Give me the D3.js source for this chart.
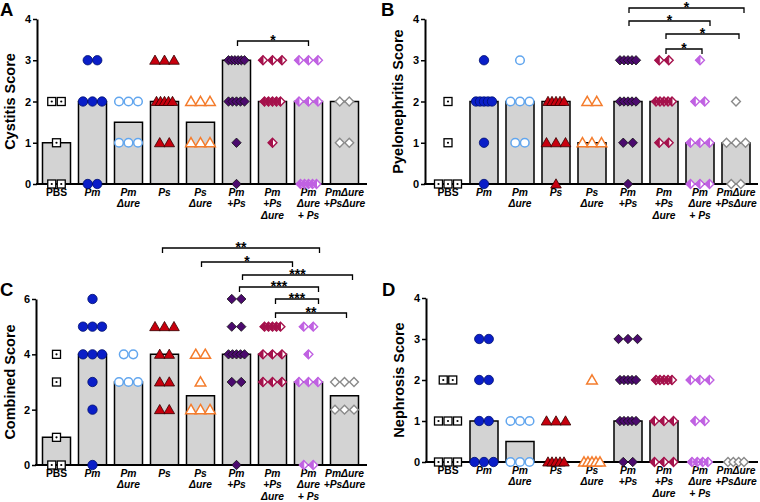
<!DOCTYPE html>
<html><head><meta charset="utf-8">
<script src="https://cdn.jsdelivr.net/npm/d3@7"></script>
<style>body{margin:0;background:#fff}svg{display:block}</style>
</head><body>
<svg id="chart" width="760" height="502"></svg>
<script>
// ---------------- DATA ----------------
const categories = ["PBS","Pm","PmΔure","Ps","PsΔure","Pm+Ps","Pm+PsΔure","PmΔure+Ps","PmΔure+PsΔure"];
const categoryLabels = [["PBS"],["Pm"],["Pm","Δure"],["Ps"],["Ps","Δure"],["Pm","+Ps"],["Pm","+Ps","Δure"],["Pm","Δure","+ Ps"],["PmΔure","+PsΔure"]];

const cystitisScores = [
  [2,2,1,0,0],
  [3,3,2,2,2,0,0],
  [2,2,2,1,1,1],
  [3,3,3,2,2,2,2,2,1,1],
  [2,2,2,1,1,1],
  [3,3,3,3,3,3,2,2,2,2,2,1,0],
  [3,3,3,2,2,2,2,2,1],
  [3,3,3,2,2,2,0,0,0,0,0],
  [2,2,1,1]
];
const cystitisBars = [1,2,1.5,2,1.5,3,2,2,2];

const pyeloScores = [
  [2,1,0,0,0],
  [3,2,2,2,2,2,1,0],
  [3,2,2,2,1,1],
  [2,2,2,2,2,1,1,1,0],
  [2,2,1,1,1],
  [3,3,3,3,3,2,2,2,2,2,1,1,0],
  [3,3,2,2,2,2,2,1,1],
  [3,2,2,1,1,1,0,0,0],
  [2,1,1,1,0,0]
];
const pyeloBars = [0,2,2,2,1,2,2,1,1];

const combinedScores = [
  [4,3,1,0,0],
  [6,5,5,5,4,4,4,3,2,0],
  [4,4,3,3,3],
  [5,5,5,4,4,3,3,2,2],
  [4,4,3,2,2,2],
  [6,6,5,5,4,4,4,4,4,3,3,0],
  [5,5,5,5,5,4,4,4,3,3,3],
  [5,5,4,3,3,3,0,0],
  [3,3,3,2,2,2]
];
const combinedBars = [1,4,3,4,2.5,4,4,3,2.5];

const nephrosisScores = [
  [2,2,1,1,1,0,0,0],
  [3,3,2,2,1,1,0,0,0],
  [1,1,1,0,0,0],
  [1,1,1,0,0,0,0,0],
  [2,0,0,0,0,0],
  [3,3,3,2,2,2,2,2,1,1,1,1,1,0,0],
  [2,2,2,2,2,1,1,1,0,0,0],
  [2,2,2,1,1,0,0,0,0],
  [0,0,0,0]
];
const nephrosisBars = [0,1,0.5,0,0,1,1,0,0];

// significance comparisons: [from, to, label]
const cystitisSig = [["Pm+Ps","PmΔure+Ps","*"]];
const pyeloSig = [
  ["Pm+Ps","PmΔure+PsΔure","*"],
  ["Pm+Ps","PmΔure+Ps","*"],
  ["Pm+PsΔure","PmΔure+PsΔure","*"],
  ["Pm+PsΔure","PmΔure+Ps","*"]
];
const combinedSig = [
  ["Ps","PmΔure+Ps","**"],
  ["PsΔure","PmΔure+Ps","*"],
  ["Pm+Ps","PmΔure+PsΔure","***"],
  ["Pm+Ps","PmΔure+Ps","***"],
  ["Pm+PsΔure","PmΔure+Ps","***"],
  ["Pm+PsΔure","PmΔure+PsΔure","**"]
];
const nephrosisSig = [];

// ---------------- LAYOUT ----------------
const FONT = "'Liberation Sans', Arial, Helvetica, sans-serif";
const panels = [
  {letter:"A", title:"Cystitis Score", scores:cystitisScores, bars:cystitisBars, sig:cystitisSig,
   yMax:4, ticks:[0,1,2,3,4], axisX:37, r0:38.5, r1:362.5, xEnd:367, y0:184, yTop:19,
   letterX:0, letterY:16, titleX:15, sigY:[41], sigDx:[[1,0]]},
  {letter:"B", title:"Pyelonephritis Score", scores:pyeloScores, bars:pyeloBars, sig:pyeloSig,
   yMax:4, ticks:[0,1,2,3,4], axisX:425, r0:430, r1:754, xEnd:758, y0:184, yTop:19,
   letterX:381, letterY:16, titleX:403, sigY:[8,21,34,49], sigDx:[[1,8],[1,10],[2,3],[2,2]]},
  {letter:"C", title:"Combined Score", scores:combinedScores, bars:combinedBars, sig:combinedSig,
   yMax:6, ticks:[0,2,4,6], axisX:36, r0:38.5, r1:362.5, xEnd:367, y0:465, yTop:299,
   letterX:0, letterY:296, titleX:15, sigY:[248,262,275,287,299,313], sigDx:[[-2,11],[1,-16],[6,8],[3,10],[3,10],[3,2]]},
  {letter:"D", title:"Nephrosis Score", scores:nephrosisScores, bars:nephrosisBars, sig:nephrosisSig,
   yMax:4, ticks:[0,1,2,3,4], axisX:426, r0:430, r1:754, xEnd:758, y0:462, yTop:298,
   letterX:382, letterY:296, titleX:404, sigY:[], sigDx:[]}
];

const svg = d3.select("#chart");

function drawMarker(g, ci, x, y) {
  const dia = s => `M${x},${y-s}L${x+s},${y}L${x},${y+s}L${x-s},${y}Z`;
  const halfDia = s => `M${x},${y-s}L${x-s},${y}L${x},${y+s}Z`;
  const tri = `M${x},${y-5.2}L${x+5.3},${y+4}L${x-5.3},${y+4}Z`;
  switch (ci) {
    case 0:
      g.append("rect").attr("x",x-4).attr("y",y-4).attr("width",8).attr("height",8)
        .attr("fill","#fff").attr("stroke","#000").attr("stroke-width",1.3);
      g.append("circle").attr("cx",x).attr("cy",y).attr("r",1.1).attr("fill","#000");
      break;
    case 1:
      g.append("circle").attr("cx",x).attr("cy",y).attr("r",4.7)
        .attr("fill","#0a1ec8").attr("stroke","#001070").attr("stroke-width",0.8);
      break;
    case 2:
      g.append("circle").attr("cx",x).attr("cy",y).attr("r",4.3)
        .attr("fill","#fff").attr("stroke","#62a6ee").attr("stroke-width",1.5);
      break;
    case 3:
      g.append("path").attr("d",tri).attr("fill","#c8000e").attr("stroke","#300").attr("stroke-width",0.8);
      break;
    case 4:
      g.append("path").attr("d",tri).attr("fill","#fff").attr("stroke","#f47c2c").attr("stroke-width",1.5);
      break;
    case 5:
      g.append("path").attr("d",dia(4.7)).attr("fill","#4b0a6e").attr("stroke","#111").attr("stroke-width",0.8);
      break;
    case 6:
    case 7: {
      const c = ci === 6 ? "#a5124c" : "#c062e2";
      g.append("path").attr("d",dia(4.4)).attr("fill","#fff").attr("stroke",c).attr("stroke-width",1.4);
      g.append("path").attr("d",halfDia(4.4)).attr("fill",c).attr("stroke",c).attr("stroke-width",1);
      break;
    }
    case 8:
      g.append("path").attr("d",dia(4.4)).attr("fill","#fff").attr("stroke","#8a8a8a").attr("stroke-width",1.4);
      break;
  }
}

panels.forEach(p => {
  const g = svg.append("g");
  const x = d3.scaleBand().domain(categories).range([p.r0, p.r1]).paddingInner(0.222).paddingOuter(0.111);
  const y = d3.scaleLinear().domain([0, p.yMax]).range([p.y0, p.yTop]);
  const bw = x.bandwidth();
  const cx = c => x(c) + bw / 2;

  // bars
  g.selectAll("path.bar").data(p.bars).join("path").attr("class","bar")
    .attr("d", (v,i) => { const x0 = x(categories[i]); return `M${x0},${p.y0}V${y(v)}H${x0+bw}V${p.y0}`; })
    .attr("fill","#d3d3d3").attr("stroke","#000").attr("stroke-width",1.5);

  // y axis
  const ax = g.append("g").attr("transform",`translate(${p.axisX},0)`)
    .call(d3.axisLeft(y).tickValues(p.ticks).tickSize(4).tickSizeOuter(0).tickPadding(2).tickFormat(d3.format("d")));
  ax.select(".domain").attr("stroke","#000").attr("stroke-width",2);
  ax.selectAll(".tick line").attr("stroke","#000").attr("stroke-width",1.5);
  ax.selectAll(".tick text").attr("font-family",FONT).attr("font-weight","bold").attr("font-size",11).attr("fill","#000");

  // x axis line
  g.append("line").attr("x1",p.axisX-1).attr("x2",p.xEnd).attr("y1",p.y0).attr("y2",p.y0)
    .attr("stroke","#000").attr("stroke-width",2);

  // x labels
  categoryLabels.forEach((lines, i) => {
    const t = g.append("text").attr("x", cx(categories[i])).attr("y", p.y0 + 12)
      .attr("text-anchor","middle").attr("font-family",FONT).attr("font-weight","bold")
      .attr("font-size",10.3).attr("font-style", i === 0 ? "normal" : "italic").attr("fill","#000");
    lines.forEach((ln, k) => t.append("tspan").attr("x", cx(categories[i])).attr("dy", k === 0 ? 0 : 11.3).text(ln));
  });

  // points
  p.scores.forEach((vals, i) => {
    const groups = d3.groups(vals, v => v);
    groups.forEach(([v, arr]) => {
      const n = arr.length;
      const sp = n <= 3 ? 9.5 : Math.min(9.5, 16 / (n - 1));
      arr.forEach((_, k) => {
        drawMarker(g, i, cx(categories[i]) + (k - (n - 1) / 2) * sp, y(v));
      });
    });
  });

  // significance brackets
  p.sig.forEach(([a, b, lab], k) => {
    const yy = p.sigY[k];
    const x1 = cx(a) + p.sigDx[k][0], x2 = cx(b) + p.sigDx[k][1];
    g.append("path").attr("d",`M${x1},${yy+5}V${yy}H${x2}V${yy+5}`)
      .attr("fill","none").attr("stroke","#000").attr("stroke-width",1.3);
    g.append("text").attr("x",(x1+x2)/2).attr("y",yy+3.5).attr("text-anchor","middle")
      .attr("font-family",FONT).attr("font-weight","bold").attr("font-size",14).attr("fill","#000").text(lab);
  });

  // y title
  g.append("text").attr("transform",`translate(${p.titleX},${(p.y0+p.yTop)/2}) rotate(-90)`)
    .attr("text-anchor","middle").attr("font-family",FONT).attr("font-weight","bold")
    .attr("font-size",14.5).attr("fill","#000").text(p.title);

  // panel letter
  g.append("text").attr("x",p.letterX).attr("y",p.letterY).attr("font-family",FONT)
    .attr("font-weight","bold").attr("font-size",18.5).attr("fill","#000").text(p.letter);
});
</script>
</body></html>
